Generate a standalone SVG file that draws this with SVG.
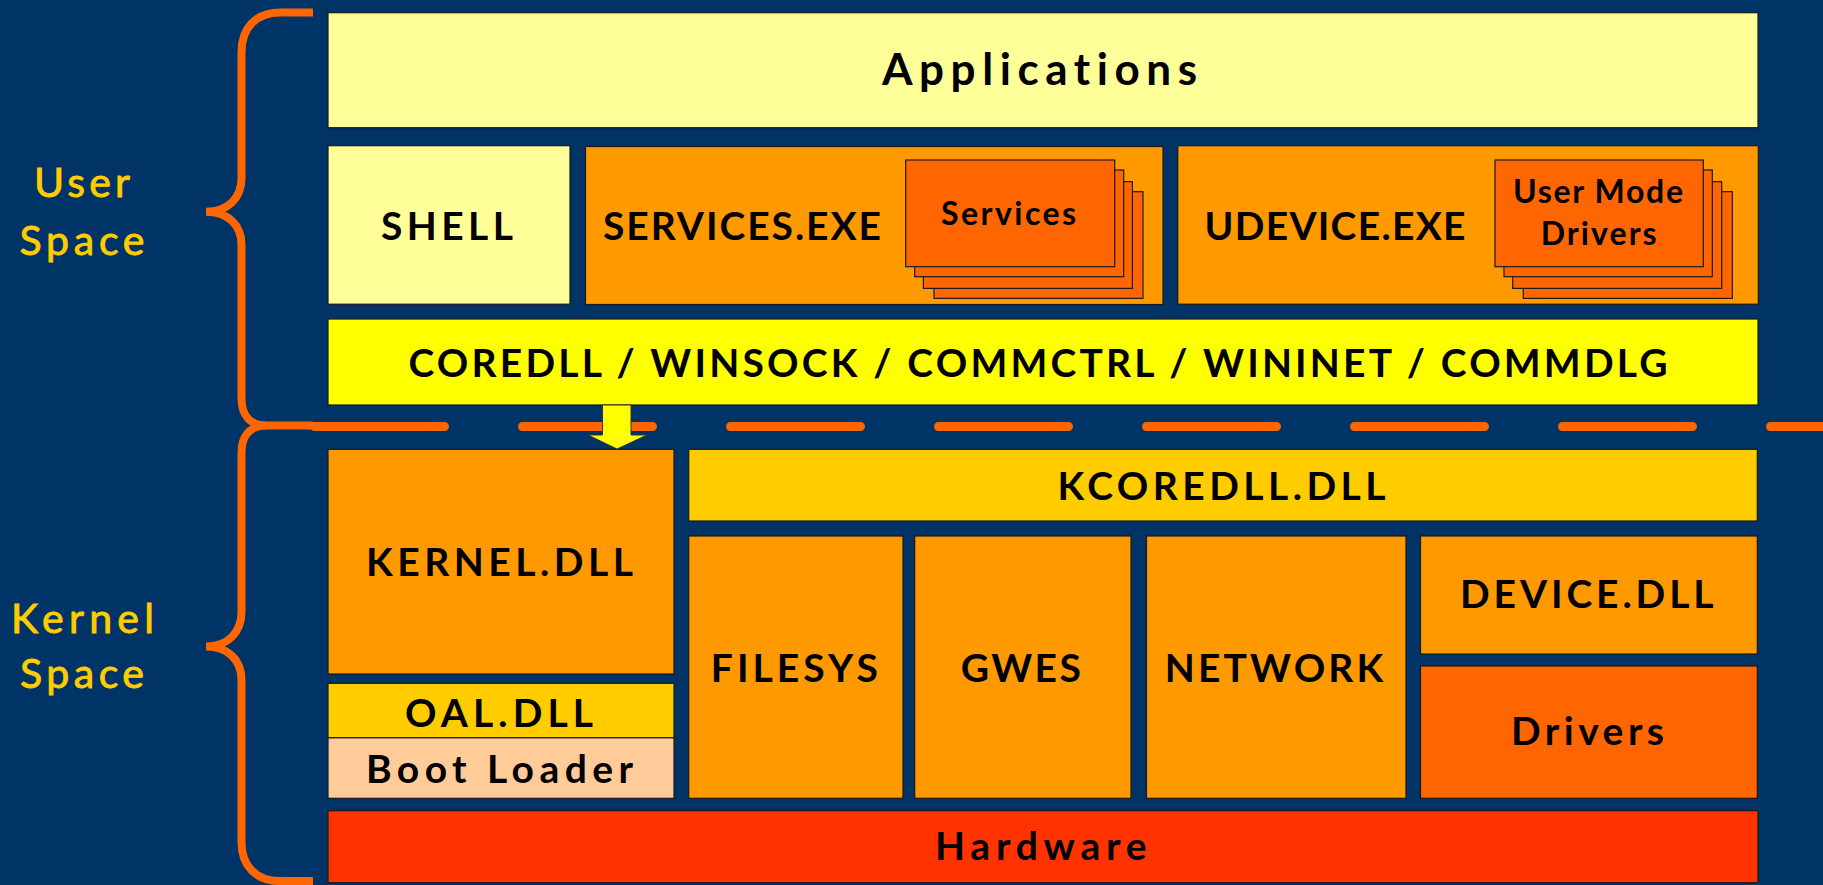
<svg xmlns="http://www.w3.org/2000/svg" width="1823" height="885" viewBox="0 0 1823 885">
<style>
.b{stroke:#1a1a1a;stroke-width:1.2}
.t{font-family:Lato,"Open Sans","DejaVu Sans",sans-serif;font-weight:bold;fill:#000;text-anchor:middle;font-variant-ligatures:none}
.m{font-size:39px}
.s{font-size:32px}
.lab{font-family:Lato,"Open Sans","DejaVu Sans",sans-serif;font-weight:normal;fill:#FFCC00;stroke:#FFCC00;stroke-width:0.9;text-anchor:middle;font-size:41px;font-variant-ligatures:none}
.br{fill:none;stroke:#FF6600;stroke-width:8}
</style>
<rect x="0" y="0" width="1823" height="885" fill="#003366"/>

<g id="connectors">
<path class="br" d="M313 12.5 H280 C256 12.5 241.5 28 241.5 52 V178 C241.5 198 228 211.7 206 211.7 C228 211.7 241.5 225 241.5 245 V398 C241.5 415 250 425.5 266 425.5 H313"/>
<path class="br" d="M266 425.5 C250 425.5 241.5 436 241.5 453 V612 C241.5 632 228 646.5 206 646.5 C228 646.5 241.5 660 241.5 680 V842 C241.5 866 256 881 280 881 H313"/>
<path d="M314.5 426.5 H1830" fill="none" stroke="#FF6600" stroke-width="9" stroke-linecap="round" stroke-dasharray="130 78"/>
</g>

<g id="user-label"><text class="lab" x="82" y="197" textLength="96" lengthAdjust="spacing">User</text><text class="lab" x="82" y="255" textLength="125" lengthAdjust="spacing">Space</text></g>
<g id="kernel-label"><text class="lab" x="82.5" y="633" textLength="143" lengthAdjust="spacing">Kernel</text><text class="lab" x="82" y="688" textLength="124" lengthAdjust="spacing">Space</text></g>

<g id="applications"><rect class="b" x="328" y="12.7" width="1430" height="115" fill="#FFFF99"/><text class="t" style="font-size:44px" x="1039.5" y="85" textLength="315" lengthAdjust="spacing">Applications</text></g>
<g id="shell"><rect class="b" x="328" y="145.7" width="242" height="158.5" fill="#FFFF99"/><text class="t m" x="447" y="239.5" textLength="132" lengthAdjust="spacing">SHELL</text></g>
<g id="services-exe"><rect class="b" x="585.5" y="146.5" width="577.5" height="158" fill="#FF9900"/><text class="t m" x="742" y="240" textLength="278" lengthAdjust="spacing">SERVICES.EXE</text></g>
<g id="services">
<rect class="b" x="934" y="191.7" width="209" height="106.7" fill="#FF6600"/>
<rect class="b" x="923.4" y="181.7" width="209" height="106.7" fill="#FF6600"/>
<rect class="b" x="914.7" y="170" width="209" height="106.7" fill="#FF6600"/>
<rect class="b" x="905.7" y="160" width="209" height="106.7" fill="#FF6600"/>
<text class="t s" x="1008.6" y="225" textLength="135" lengthAdjust="spacing">Services</text></g>
<g id="udevice-exe"><rect class="b" x="1177.8" y="145.7" width="580.5" height="158.5" fill="#FF9900"/><text class="t m" x="1335" y="240" textLength="261" lengthAdjust="spacing">UDEVICE.EXE</text></g>
<g id="user-mode-drivers">
<rect class="b" x="1523.3" y="191.7" width="209" height="106.7" fill="#FF6600"/>
<rect class="b" x="1512.7" y="181.7" width="209" height="106.7" fill="#FF6600"/>
<rect class="b" x="1504" y="170" width="208.3" height="106.7" fill="#FF6600"/>
<rect class="b" x="1495" y="160" width="208.3" height="106.7" fill="#FF6600"/>
<text class="t s" x="1598" y="203.3" textLength="170" lengthAdjust="spacing">User Mode</text>
<text class="t s" x="1598.7" y="245" textLength="116" lengthAdjust="spacing">Drivers</text></g>
<g id="coredll"><rect class="b" x="328" y="319" width="1430" height="86" fill="#FFFF00"/><text class="t m" x="1038" y="376.7" textLength="1259" lengthAdjust="spacing">COREDLL / WINSOCK / COMMCTRL / WININET / COMMDLG</text></g>

<g id="kernel-dll"><rect class="b" x="328" y="449.3" width="346" height="224.7" fill="#FF9900"/><text class="t m" x="499.5" y="576" textLength="267" lengthAdjust="spacing">KERNEL.DLL</text></g>
<g id="oal-dll"><rect class="b" x="328" y="683.3" width="346" height="54.5" fill="#FFCC00"/><text class="t m" x="499" y="726.7" textLength="188" lengthAdjust="spacing">OAL.DLL</text></g>
<g id="boot-loader"><rect class="b" x="328" y="737.8" width="346" height="60.5" fill="#FFCC99"/><text class="t m" x="499.5" y="783" textLength="267" lengthAdjust="spacing">Boot Loader</text></g>
<g id="kcoredll"><rect class="b" x="688.7" y="449.3" width="1068.6" height="71.7" fill="#FFCC00"/><text class="t m" x="1221.5" y="500" textLength="328" lengthAdjust="spacing">KCOREDLL.DLL</text></g>
<g id="filesys"><rect class="b" x="688.7" y="536" width="214.3" height="262.3" fill="#FF9900"/><text class="t m" x="794.3" y="681.7" textLength="167" lengthAdjust="spacing">FILESYS</text></g>
<g id="gwes"><rect class="b" x="914.7" y="536" width="216.3" height="262.3" fill="#FF9900"/><text class="t m" x="1020.8" y="681.7" textLength="120" lengthAdjust="spacing">GWES</text></g>
<g id="network"><rect class="b" x="1146.5" y="536" width="259.5" height="262.3" fill="#FF9900"/><text class="t m" x="1274" y="681.7" textLength="218.6" lengthAdjust="spacing">NETWORK</text></g>
<g id="device-dll"><rect class="b" x="1420.5" y="536" width="336.8" height="118" fill="#FF9900"/><text class="t m" x="1586.8" y="608.3" textLength="253.5" lengthAdjust="spacing">DEVICE.DLL</text></g>
<g id="drivers"><rect class="b" x="1420.5" y="666" width="336.8" height="132.3" fill="#FF6600"/><text class="t m" x="1587.5" y="745" textLength="153" lengthAdjust="spacing">Drivers</text></g>
<g id="hardware"><rect class="b" x="328" y="810.7" width="1430" height="72" fill="#FF3300"/><text class="t m" x="1040.8" y="860" textLength="211.5" lengthAdjust="spacing">Hardware</text></g>

<g id="arrow"><polygon points="602.5,405 631,405 631,435 647,435 617,449 588,435 602.5,435" fill="#FFFF00" stroke="#333" stroke-width="1"/></g>
</svg>
